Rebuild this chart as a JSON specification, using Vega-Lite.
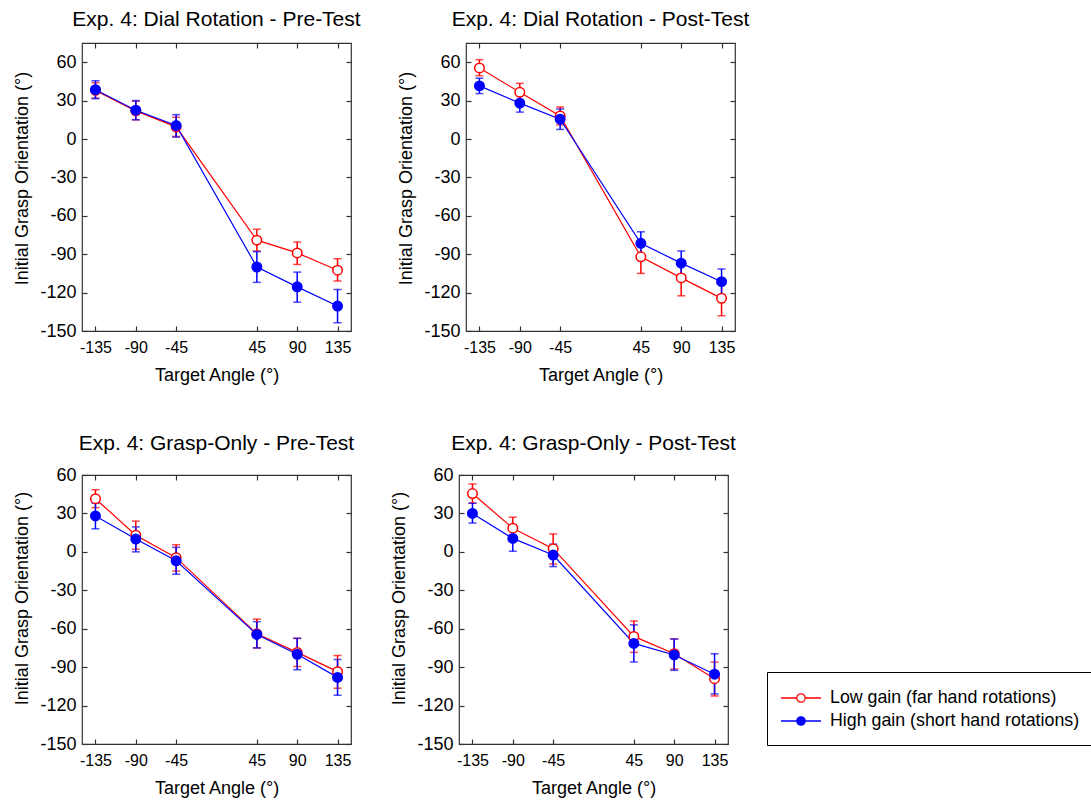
{
  "$schema": "https://vega.github.io/schema/vega-lite/v6.json",
  "background": "white",
  "padding": {"left": 13, "top": 8, "right": 2, "bottom": 2},
  "config": {
    "font": "Liberation Sans",
    "view": {"stroke": "#333333", "strokeWidth": 1.2},
    "axis": {
      "grid": false, "domain": false, "tickColor": "#333333", "tickWidth": 1.2, "tickSize": -5,
      "labelColor": "black", "labelFont": "Liberation Sans", "titleFont": "Liberation Sans",
      "titleFontWeight": "normal", "titleColor": "black", "titleFontSize": 18,
      "labelExpr": "'' + datum.value"
    },
    "axisX": {"labelFontSize": 16, "labelPadding": 13, "titlePadding": 11},
    "axisY": {"labelFontSize": 18, "labelPadding": 11, "titlePadding": 8},
    "title": {"fontSize": 21, "fontWeight": "normal", "font": "Liberation Sans", "frame": "group", "offset": 12, "color": "black"}
  },
  "data": {"values": [
    {"panel": "DRpre", "gain": "Low gain (far hand rotations)", "angle": -135, "mean": 38, "lo": 32, "hi": 44},
    {"panel": "DRpre", "gain": "Low gain (far hand rotations)", "angle": -90, "mean": 22, "lo": 15, "hi": 29.5},
    {"panel": "DRpre", "gain": "Low gain (far hand rotations)", "angle": -45, "mean": 9.5, "lo": 2, "hi": 17},
    {"panel": "DRpre", "gain": "Low gain (far hand rotations)", "angle": 45, "mean": -79, "lo": -87.5, "hi": -70.5},
    {"panel": "DRpre", "gain": "Low gain (far hand rotations)", "angle": 90, "mean": -89, "lo": -98, "hi": -80.5},
    {"panel": "DRpre", "gain": "Low gain (far hand rotations)", "angle": 135, "mean": -102.5, "lo": -111, "hi": -93.5},
    {"panel": "DRpre", "gain": "High gain (short hand rotations)", "angle": -135, "mean": 38.5, "lo": 31.5, "hi": 45.5},
    {"panel": "DRpre", "gain": "High gain (short hand rotations)", "angle": -90, "mean": 22.5, "lo": 15, "hi": 30},
    {"panel": "DRpre", "gain": "High gain (short hand rotations)", "angle": -45, "mean": 10.5, "lo": 1.5, "hi": 19},
    {"panel": "DRpre", "gain": "High gain (short hand rotations)", "angle": 45, "mean": -100, "lo": -112, "hi": -88},
    {"panel": "DRpre", "gain": "High gain (short hand rotations)", "angle": 90, "mean": -115.5, "lo": -127.5, "hi": -104},
    {"panel": "DRpre", "gain": "High gain (short hand rotations)", "angle": 135, "mean": -130.5, "lo": -143.5, "hi": -117.5},

    {"panel": "DRpost", "gain": "Low gain (far hand rotations)", "angle": -135, "mean": 55.5, "lo": 49.5, "hi": 62},
    {"panel": "DRpost", "gain": "Low gain (far hand rotations)", "angle": -90, "mean": 36.5, "lo": 29.5, "hi": 43.5},
    {"panel": "DRpost", "gain": "Low gain (far hand rotations)", "angle": -45, "mean": 18, "lo": 11, "hi": 25},
    {"panel": "DRpost", "gain": "Low gain (far hand rotations)", "angle": 45, "mean": -92, "lo": -105, "hi": -79},
    {"panel": "DRpost", "gain": "Low gain (far hand rotations)", "angle": 90, "mean": -108.5, "lo": -122.5, "hi": -96},
    {"panel": "DRpost", "gain": "Low gain (far hand rotations)", "angle": 135, "mean": -124.5, "lo": -138, "hi": -111},
    {"panel": "DRpost", "gain": "High gain (short hand rotations)", "angle": -135, "mean": 41.5, "lo": 35.5, "hi": 47.5},
    {"panel": "DRpost", "gain": "High gain (short hand rotations)", "angle": -90, "mean": 28, "lo": 21, "hi": 35},
    {"panel": "DRpost", "gain": "High gain (short hand rotations)", "angle": -45, "mean": 15.5, "lo": 7.5, "hi": 23.5},
    {"panel": "DRpost", "gain": "High gain (short hand rotations)", "angle": 45, "mean": -81.5, "lo": -91, "hi": -72.5},
    {"panel": "DRpost", "gain": "High gain (short hand rotations)", "angle": 90, "mean": -97, "lo": -106.5, "hi": -87.5},
    {"panel": "DRpost", "gain": "High gain (short hand rotations)", "angle": 135, "mean": -111.5, "lo": -121.5, "hi": -101.5},

    {"panel": "GOpre", "gain": "Low gain (far hand rotations)", "angle": -135, "mean": 41.5, "lo": 34.5, "hi": 48.5},
    {"panel": "GOpre", "gain": "Low gain (far hand rotations)", "angle": -90, "mean": 13, "lo": 2, "hi": 24},
    {"panel": "GOpre", "gain": "Low gain (far hand rotations)", "angle": -45, "mean": -4.5, "lo": -15, "hi": 5.5},
    {"panel": "GOpre", "gain": "Low gain (far hand rotations)", "angle": 45, "mean": -64, "lo": -75, "hi": -52.5},
    {"panel": "GOpre", "gain": "Low gain (far hand rotations)", "angle": 90, "mean": -78.5, "lo": -89.5, "hi": -67.5},
    {"panel": "GOpre", "gain": "Low gain (far hand rotations)", "angle": 135, "mean": -93.5, "lo": -106.5, "hi": -81},
    {"panel": "GOpre", "gain": "High gain (short hand rotations)", "angle": -135, "mean": 28, "lo": 18, "hi": 38},
    {"panel": "GOpre", "gain": "High gain (short hand rotations)", "angle": -90, "mean": 10, "lo": 0, "hi": 19.5},
    {"panel": "GOpre", "gain": "High gain (short hand rotations)", "angle": -45, "mean": -7, "lo": -17.5, "hi": 3.5},
    {"panel": "GOpre", "gain": "High gain (short hand rotations)", "angle": 45, "mean": -64.5, "lo": -75, "hi": -54.5},
    {"panel": "GOpre", "gain": "High gain (short hand rotations)", "angle": 90, "mean": -80, "lo": -92, "hi": -67.5},
    {"panel": "GOpre", "gain": "High gain (short hand rotations)", "angle": 135, "mean": -98, "lo": -112, "hi": -84},

    {"panel": "GOpost", "gain": "Low gain (far hand rotations)", "angle": -135, "mean": 45.5, "lo": 38, "hi": 53},
    {"panel": "GOpost", "gain": "Low gain (far hand rotations)", "angle": -90, "mean": 18.5, "lo": 10, "hi": 27},
    {"panel": "GOpost", "gain": "Low gain (far hand rotations)", "angle": -45, "mean": 2.5, "lo": -9.5, "hi": 14},
    {"panel": "GOpost", "gain": "Low gain (far hand rotations)", "angle": 45, "mean": -66, "lo": -78.5, "hi": -54},
    {"panel": "GOpost", "gain": "Low gain (far hand rotations)", "angle": 90, "mean": -79.5, "lo": -91.5, "hi": -68},
    {"panel": "GOpost", "gain": "Low gain (far hand rotations)", "angle": 135, "mean": -99, "lo": -112.5, "hi": -86},
    {"panel": "GOpost", "gain": "High gain (short hand rotations)", "angle": -135, "mean": 30, "lo": 22.5, "hi": 38},
    {"panel": "GOpost", "gain": "High gain (short hand rotations)", "angle": -90, "mean": 10.5, "lo": 0.5, "hi": 20.5},
    {"panel": "GOpost", "gain": "High gain (short hand rotations)", "angle": -45, "mean": -2.5, "lo": -11.5, "hi": 6},
    {"panel": "GOpost", "gain": "High gain (short hand rotations)", "angle": 45, "mean": -71.5, "lo": -86, "hi": -57},
    {"panel": "GOpost", "gain": "High gain (short hand rotations)", "angle": 90, "mean": -80.5, "lo": -92.5, "hi": -68},
    {"panel": "GOpost", "gain": "High gain (short hand rotations)", "angle": 135, "mean": -95.5, "lo": -111, "hi": -79.5}
  ]},
  "spacing": 47,
  "vconcat": [
    {
      "spacing": 35,
      "hconcat": [
        {
          "title": "Exp. 4: Dial Rotation - Pre-Test",
          "width": 269, "height": 288,
          "transform": [{"filter": "datum.panel === 'DRpre'"}],
          "layer": [
            {"mark": {"type": "errorbar", "ticks": {"size": 8}, "thickness": 1.5},
             "encoding": {
               "x": {"field": "angle", "type": "quantitative", "scale": {"domain": [-150, 150], "nice": false, "zero": false}, "axis": null},
               "y": {"field": "lo", "type": "quantitative", "scale": {"domain": [-150, 75], "nice": false, "zero": false}, "axis": null},
               "y2": {"field": "hi"},
               "color": {"field": "gain", "type": "nominal", "scale": {"domain": ["High gain (short hand rotations)", "Low gain (far hand rotations)"], "range": ["#0000ff", "#ff0000"]}, "legend": null}
             }},
            {"mark": {"type": "line", "strokeWidth": 1.2},
             "encoding": {
               "x": {"field": "angle", "type": "quantitative", "scale": {"domain": [-150, 150], "nice": false, "zero": false}, "axis": {"orient": "bottom", "values": [-135, -90, -45, 45, 90, 135], "title": "Target Angle (°)"}},
               "y": {"field": "mean", "type": "quantitative", "scale": {"domain": [-150, 75], "nice": false, "zero": false}, "axis": {"orient": "left", "values": [-150, -120, -90, -60, -30, 0, 30, 60], "title": "Initial Grasp Orientation (°)", "titleY": 135}},
               "color": {"field": "gain", "type": "nominal", "legend": null}
             }},
            {"mark": {"type": "point", "shape": "circle", "size": 90, "strokeWidth": 1.5, "opacity": 1},
             "encoding": {
               "x": {"field": "angle", "type": "quantitative", "scale": {"domain": [-150, 150], "nice": false, "zero": false}, "axis": {"orient": "top", "values": [-135, -90, -45, 45, 90, 135], "labels": false, "title": null}},
               "y": {"field": "mean", "type": "quantitative", "scale": {"domain": [-150, 75], "nice": false, "zero": false}, "axis": {"orient": "right", "values": [-150, -120, -90, -60, -30, 0, 30, 60], "labels": false, "title": null}},
               "stroke": {"field": "gain", "type": "nominal", "scale": {"domain": ["Low gain (far hand rotations)", "High gain (short hand rotations)"], "range": ["#ff0000", "#0000ff"]}, "legend": {"orient": "none", "legendX": 685, "legendY": 629, "title": null, "strokeColor": "black", "fillColor": "white", "padding": 15, "rowPadding": 3, "symbolSize": 400, "symbolType": "M-1.2,0L0.38,0M1.22,0L2.8,0M0.38,0A0.42,0.42 0 1,1 1.22,0A0.42,0.42 0 1,1 0.38,0Z", "symbolStrokeWidth": 1.3, "labelFontSize": 17.8, "labelOffset": 26, "labelLimit": 400, "labelColor": "black", "cornerRadius": 0}},
               "fill": {"field": "gain", "type": "nominal", "scale": {"domain": ["Low gain (far hand rotations)", "High gain (short hand rotations)"], "range": ["white", "#0000ff"]}, "legend": {"orient": "none", "legendX": 685, "legendY": 629, "title": null, "strokeColor": "black", "fillColor": "white", "padding": 15, "rowPadding": 3, "symbolSize": 400, "symbolType": "M-1.2,0L0.38,0M1.22,0L2.8,0M0.38,0A0.42,0.42 0 1,1 1.22,0A0.42,0.42 0 1,1 0.38,0Z", "symbolStrokeWidth": 1.3, "labelFontSize": 17.8, "labelOffset": 26, "labelLimit": 400, "labelColor": "black", "cornerRadius": 0}}
             }}
          ],
          "resolve": {"axis": {"x": "independent", "y": "independent"}}
        },
        {
          "title": "Exp. 4: Dial Rotation - Post-Test",
          "width": 269, "height": 288,
          "transform": [{"filter": "datum.panel === 'DRpost'"}],
          "layer": [
            {"mark": {"type": "errorbar", "ticks": {"size": 8}, "thickness": 1.5},
             "encoding": {
               "x": {"field": "angle", "type": "quantitative", "scale": {"domain": [-150, 150], "nice": false, "zero": false}, "axis": null},
               "y": {"field": "lo", "type": "quantitative", "scale": {"domain": [-150, 75], "nice": false, "zero": false}, "axis": null},
               "y2": {"field": "hi"},
               "color": {"field": "gain", "type": "nominal", "legend": null}
             }},
            {"mark": {"type": "line", "strokeWidth": 1.2},
             "encoding": {
               "x": {"field": "angle", "type": "quantitative", "scale": {"domain": [-150, 150], "nice": false, "zero": false}, "axis": {"orient": "bottom", "values": [-135, -90, -45, 45, 90, 135], "title": "Target Angle (°)"}},
               "y": {"field": "mean", "type": "quantitative", "scale": {"domain": [-150, 75], "nice": false, "zero": false}, "axis": {"orient": "left", "values": [-150, -120, -90, -60, -30, 0, 30, 60], "title": "Initial Grasp Orientation (°)", "titleY": 135}},
               "color": {"field": "gain", "type": "nominal", "legend": null}
             }},
            {"mark": {"type": "point", "shape": "circle", "size": 90, "strokeWidth": 1.5, "opacity": 1},
             "encoding": {
               "x": {"field": "angle", "type": "quantitative", "scale": {"domain": [-150, 150], "nice": false, "zero": false}, "axis": {"orient": "top", "values": [-135, -90, -45, 45, 90, 135], "labels": false, "title": null}},
               "y": {"field": "mean", "type": "quantitative", "scale": {"domain": [-150, 75], "nice": false, "zero": false}, "axis": {"orient": "right", "values": [-150, -120, -90, -60, -30, 0, 30, 60], "labels": false, "title": null}},
               "stroke": {"field": "gain", "type": "nominal"},
               "fill": {"field": "gain", "type": "nominal"}
             }}
          ],
          "resolve": {"axis": {"x": "independent", "y": "independent"}}
        }
      ]
    },
    {
      "spacing": 35,
      "hconcat": [
        {
          "title": "Exp. 4: Grasp-Only - Pre-Test",
          "width": 269, "height": 269,
          "transform": [{"filter": "datum.panel === 'GOpre'"}],
          "layer": [
            {"mark": {"type": "errorbar", "ticks": {"size": 8}, "thickness": 1.5},
             "encoding": {
               "x": {"field": "angle", "type": "quantitative", "scale": {"domain": [-150, 150], "nice": false, "zero": false}, "axis": null},
               "y": {"field": "lo", "type": "quantitative", "scale": {"domain": [-150, 60], "nice": false, "zero": false}, "axis": null},
               "y2": {"field": "hi"},
               "color": {"field": "gain", "type": "nominal", "legend": null}
             }},
            {"mark": {"type": "line", "strokeWidth": 1.2},
             "encoding": {
               "x": {"field": "angle", "type": "quantitative", "scale": {"domain": [-150, 150], "nice": false, "zero": false}, "axis": {"orient": "bottom", "values": [-135, -90, -45, 45, 90, 135], "title": "Target Angle (°)"}},
               "y": {"field": "mean", "type": "quantitative", "scale": {"domain": [-150, 60], "nice": false, "zero": false}, "axis": {"orient": "left", "values": [-150, -120, -90, -60, -30, 0, 30, 60], "title": "Initial Grasp Orientation (°)", "titleY": 123}},
               "color": {"field": "gain", "type": "nominal", "legend": null}
             }},
            {"mark": {"type": "point", "shape": "circle", "size": 90, "strokeWidth": 1.5, "opacity": 1},
             "encoding": {
               "x": {"field": "angle", "type": "quantitative", "scale": {"domain": [-150, 150], "nice": false, "zero": false}, "axis": {"orient": "top", "values": [-135, -90, -45, 45, 90, 135], "labels": false, "title": null}},
               "y": {"field": "mean", "type": "quantitative", "scale": {"domain": [-150, 60], "nice": false, "zero": false}, "axis": {"orient": "right", "values": [-150, -120, -90, -60, -30, 0, 30, 60], "labels": false, "title": null}},
               "stroke": {"field": "gain", "type": "nominal"},
               "fill": {"field": "gain", "type": "nominal"}
             }}
          ],
          "resolve": {"axis": {"x": "independent", "y": "independent"}}
        },
        {
          "title": "Exp. 4: Grasp-Only - Post-Test",
          "width": 269, "height": 269,
          "transform": [{"filter": "datum.panel === 'GOpost'"}],
          "layer": [
            {"mark": {"type": "errorbar", "ticks": {"size": 8}, "thickness": 1.5},
             "encoding": {
               "x": {"field": "angle", "type": "quantitative", "scale": {"domain": [-150, 150], "nice": false, "zero": false}, "axis": null},
               "y": {"field": "lo", "type": "quantitative", "scale": {"domain": [-150, 60], "nice": false, "zero": false}, "axis": null},
               "y2": {"field": "hi"},
               "color": {"field": "gain", "type": "nominal", "legend": null}
             }},
            {"mark": {"type": "line", "strokeWidth": 1.2},
             "encoding": {
               "x": {"field": "angle", "type": "quantitative", "scale": {"domain": [-150, 150], "nice": false, "zero": false}, "axis": {"orient": "bottom", "values": [-135, -90, -45, 45, 90, 135], "title": "Target Angle (°)"}},
               "y": {"field": "mean", "type": "quantitative", "scale": {"domain": [-150, 60], "nice": false, "zero": false}, "axis": {"orient": "left", "values": [-150, -120, -90, -60, -30, 0, 30, 60], "title": "Initial Grasp Orientation (°)", "titleY": 123}},
               "color": {"field": "gain", "type": "nominal", "legend": null}
             }},
            {"mark": {"type": "point", "shape": "circle", "size": 90, "strokeWidth": 1.5, "opacity": 1},
             "encoding": {
               "x": {"field": "angle", "type": "quantitative", "scale": {"domain": [-150, 150], "nice": false, "zero": false}, "axis": {"orient": "top", "values": [-135, -90, -45, 45, 90, 135], "labels": false, "title": null}},
               "y": {"field": "mean", "type": "quantitative", "scale": {"domain": [-150, 60], "nice": false, "zero": false}, "axis": {"orient": "right", "values": [-150, -120, -90, -60, -30, 0, 30, 60], "labels": false, "title": null}},
               "stroke": {"field": "gain", "type": "nominal"},
               "fill": {"field": "gain", "type": "nominal"}
             }}
          ],
          "resolve": {"axis": {"x": "independent", "y": "independent"}}
        }
      ]
    }
  ]
}
